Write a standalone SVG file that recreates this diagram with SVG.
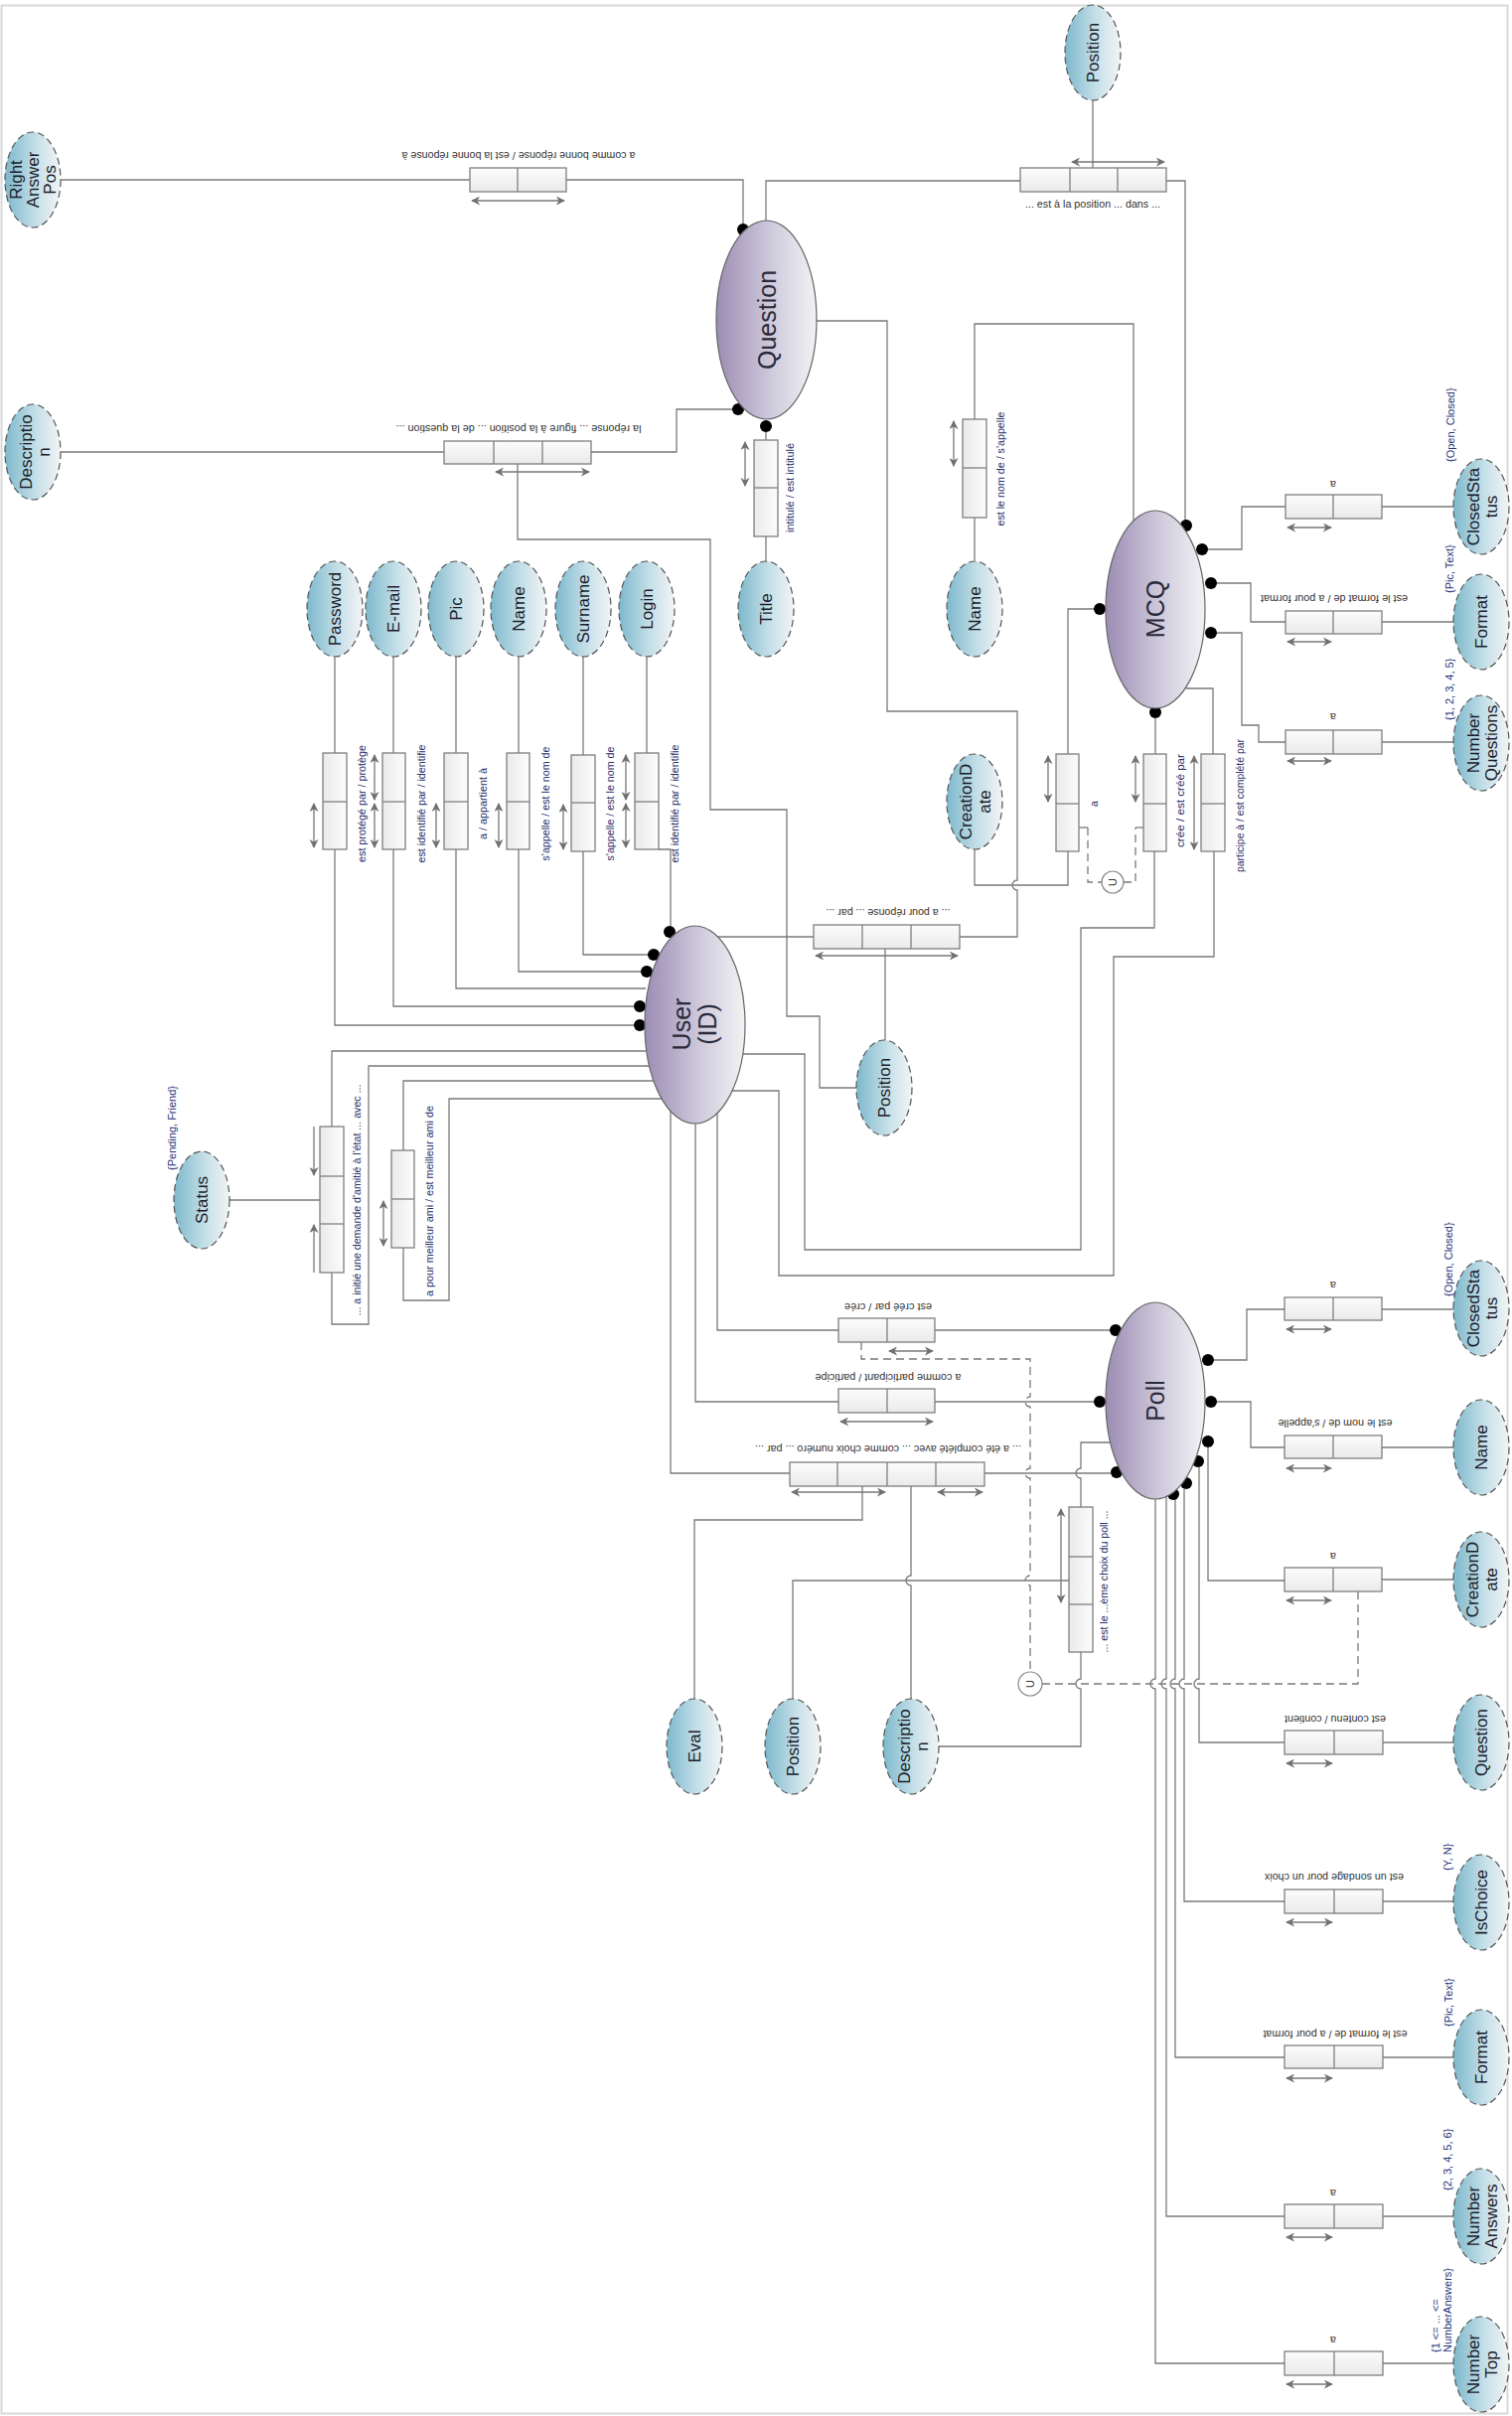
<svg xmlns="http://www.w3.org/2000/svg" width="1522" height="2432" viewBox="0 0 1522 2432">
<defs>
<linearGradient id="gAttr" x1="0" y1="0" x2="1" y2="0"><stop offset="0" stop-color="#7db8cc"/><stop offset="0.55" stop-color="#c4dfe8"/><stop offset="1" stop-color="#f2f4f5"/></linearGradient>
<linearGradient id="gEnt" x1="0" y1="0" x2="1" y2="0"><stop offset="0" stop-color="#9c8cb4"/><stop offset="0.6" stop-color="#d3cfdf"/><stop offset="1" stop-color="#f2f2f4"/></linearGradient>
<linearGradient id="gBoxH" x1="0" y1="0" x2="0" y2="1"><stop offset="0" stop-color="#fcfcfc"/><stop offset="1" stop-color="#eaeaea"/></linearGradient>
<linearGradient id="gBoxV" x1="0" y1="0" x2="1" y2="0"><stop offset="0" stop-color="#eaeaea"/><stop offset="1" stop-color="#fcfcfc"/></linearGradient>
<marker id="ah" viewBox="0 0 10 10" refX="9" refY="5" markerWidth="9" markerHeight="9" markerUnits="userSpaceOnUse" orient="auto-start-reverse"><path d="M0,0 L10,5 L0,10 L3,5 Z" fill="#707070"/></marker>
</defs>
<style>
.ln{fill:none;stroke:#7a7a7a;stroke-width:1.3}
.dash{fill:none;stroke:#7a7a7a;stroke-width:1.3;stroke-dasharray:8 5}
.bh{fill:url(#gBoxH);stroke:#7f7f7f;stroke-width:1.3}
.bv{fill:url(#gBoxV);stroke:#7f7f7f;stroke-width:1.3}
.dv{stroke:#7f7f7f;stroke-width:1.3}
.arr{stroke:#777;stroke-width:1.3;fill:none;marker-start:url(#ah);marker-end:url(#ah)}
.arr1{stroke:#777;stroke-width:1.3;fill:none;marker-end:url(#ah)}
.attr{fill:url(#gAttr);stroke:#555;stroke-width:1.2;stroke-dasharray:7 4}
.ent{fill:url(#gEnt);stroke:#666;stroke-width:1.2}
.dot{fill:#000}
text{font-family:"Liberation Sans",Arial,sans-serif}
.at{font-size:17px;fill:#1c1c2a}
.et{font-size:25px;fill:#2a2a3a}
.lb{font-size:11px;fill:#333}
.vl{font-size:10.5px;fill:#27306b}
.an{font-size:11px;fill:#23357a}
.uc{fill:#fff;stroke:#888;stroke-width:1.2}
</style>
<rect x="1.5" y="5.5" width="1516" height="2424" fill="#fff" stroke="#d9d9d9" stroke-width="2"/>

<g id="connectors">
<g class="ln">
<path d="M61,181 H473"/>
<path d="M570,181 H748 V226"/>
<path d="M61,455 H447"/>
<path d="M595,455 H681 V412 H738"/>
<path d="M521,467 V543 H715 V815 H792 V1023 H825 V1095 H862"/>
<path d="M771,223 V182 H1027"/>
<path d="M1174,182 H1193 V524"/>
<path d="M1100,101 V169"/>
<path d="M822,323 H893 V716 H1024 V886 A5,5 0 0 0 1024,896 V943 H966"/>
<path d="M819,943 H722"/>
<path d="M891,955 V1047"/>
<path d="M771,429 V443"/>
<path d="M771,540 V565"/>
<path d="M337,661 V758"/><path d="M396,661 V758"/><path d="M459,661 V758"/><path d="M522,661 V758"/><path d="M587,661 V760"/><path d="M651,661 V758"/>
<path d="M337,855 V1032 H638"/>
<path d="M396,855 V1013 H638"/>
<path d="M459,855 V995 H650"/>
<path d="M522,855 V978 H646"/>
<path d="M587,857 V961 H653"/>
<path d="M663,855 H675 V932"/>
<path d="M650,1058 H334 V1134"/>
<path d="M334,1281 V1333 H371 V1073 H654"/>
<path d="M231,1208 H322"/>
<path d="M406,1158 V1088 H658"/>
<path d="M406,1256 V1309 H452 V1106 H666"/>
<path d="M748,1061 H810 V1258 H1088 V934 H1162 V857"/>
<path d="M737,1098 H784 V1284 H1121 V963 H1222 V857"/>
<path d="M722,1120 V1339 H844"/>
<path d="M700,1131 V1411 H844"/>
<path d="M675,1118 V1483 H795"/>
<path d="M941,1339 H1117"/>
<path d="M941,1411 H1101"/>
<path d="M991,1483 H1118"/>
<path d="M1118,1452 H1088 V1478 A5,5 0 0 0 1088,1488 V1517"/>
<path d="M1088,1663 V1690 A5,5 0 0 0 1088,1700 V1758 H944"/>
<path d="M798,1710 V1591 H1076"/>
<path d="M868,1496 V1530 H699 V1710"/>
<path d="M917,1496 V1586 A5,5 0 0 0 917,1596 V1710"/>
<path d="M1222,1369 H1255 V1318 H1293"/><path d="M1391,1318 H1463"/>
<path d="M1225,1411 H1259 V1457 H1293"/><path d="M1391,1457 H1463"/>
<path d="M1216,1457 V1591 H1293"/><path d="M1391,1590 H1463"/>
<path d="M1207,1477 V1690 A5,5 0 0 0 1207,1700 V1754 H1293"/><path d="M1392,1754 H1463"/>
<path d="M1192,1499 V1690 A5,5 0 0 0 1192,1700 V1914 H1293"/><path d="M1392,1914 H1463"/>
<path d="M1183,1509 V1690 A5,5 0 0 0 1183,1700 V2071 H1293"/><path d="M1392,2071 H1463"/>
<path d="M1174,1507 V1690 A5,5 0 0 0 1174,1700 V2231 H1293"/><path d="M1392,2231 H1463"/>
<path d="M1163,1509 V1690 A5,5 0 0 0 1163,1700 V2379 H1293"/><path d="M1392,2379 H1463"/>
<path d="M1216,553 H1250 V510 H1294"/><path d="M1391,510 H1463"/>
<path d="M1225,587 H1259 V626 H1294"/><path d="M1391,626 H1463"/>
<path d="M1225,637 H1250 V730 H1267 V747 H1294"/><path d="M1391,747 H1463"/>
<path d="M1141,524 V326 H981 V422"/>
<path d="M981,521 V564"/>
<path d="M1101,613 H1075 V759"/>
<path d="M1075,857 V891 H981 V855"/>
<path d="M1163,723 V759"/>
<path d="M1194,693 H1221 V759"/>
<path d="M1086,833 H1095"/><path d="M1143,833 H1151"/>
</g>
<g class="dash">
<path d="M867,1351 V1368 H1037 V1406 A5,5 0 0 0 1037,1416 V1478 A5,5 0 0 0 1037,1488 V1586 A5,5 0 0 0 1037,1596 V1683"/>
<path d="M1049,1695 H1367 V1602"/>
<path d="M1095,833 V888 H1109"/>
<path d="M1131,888 H1143 V833"/>
</g>
<g id="dots" class="dot">
<circle cx="748" cy="231" r="6"/><circle cx="743" cy="412" r="6"/><circle cx="771" cy="429" r="6"/>
<circle cx="1194" cy="529" r="6"/><circle cx="1210" cy="553" r="6"/><circle cx="1219" cy="587" r="6"/><circle cx="1219" cy="637" r="6"/><circle cx="1107" cy="613" r="6"/><circle cx="1163" cy="717" r="6"/>
<circle cx="674" cy="938" r="6"/><circle cx="658" cy="961" r="6"/><circle cx="651" cy="978" r="6"/><circle cx="644" cy="1013" r="6"/><circle cx="644" cy="1032" r="6"/>
<circle cx="1123" cy="1339" r="6"/><circle cx="1107" cy="1411" r="6"/><circle cx="1124" cy="1482" r="6"/>
<circle cx="1216" cy="1369" r="6"/><circle cx="1219" cy="1411" r="6"/><circle cx="1216" cy="1451" r="6"/>
<circle cx="1206" cy="1471" r="6"/><circle cx="1194" cy="1493" r="6"/><circle cx="1181" cy="1504" r="6"/>
</g>
<g id="unions">
<circle class="uc" cx="1120" cy="888" r="11"/><text class="lb" transform="translate(1120,888) rotate(-90)" text-anchor="middle" dominant-baseline="central">U</text>
<circle class="uc" cx="1037" cy="1695" r="12"/><text class="lb" transform="translate(1037,1695) rotate(-90)" text-anchor="middle" dominant-baseline="central">U</text>
</g>
</g>

<!-- Entities -->
<g id="question"><ellipse class="ent" cx="771.5" cy="322" rx="50.5" ry="100"/><text class="et" transform="translate(772,322) rotate(-90)" text-anchor="middle" dominant-baseline="central">Question</text></g>
<g id="mcq"><ellipse class="ent" cx="1163" cy="613.5" rx="50" ry="99.5"/><text class="et" transform="translate(1163,613) rotate(-90)" text-anchor="middle" dominant-baseline="central">MCQ</text></g>
<g id="user"><ellipse class="ent" cx="699.5" cy="1031.5" rx="50.5" ry="99.5"/><text class="et" transform="translate(699,1031) rotate(-90)" text-anchor="middle" dominant-baseline="central"><tspan x="0" y="-13">User</tspan><tspan x="0" y="13">(ID)</tspan></text></g>
<g id="poll"><ellipse class="ent" cx="1163" cy="1410" rx="50" ry="99"/><text class="et" transform="translate(1163,1410) rotate(-90)" text-anchor="middle" dominant-baseline="central">Poll</text></g>

<!-- Attributes -->
<g id="attr-rightanswerpos"><ellipse class="attr" cx="33" cy="181" rx="28" ry="48"/><text class="at" transform="translate(33,181) rotate(-90)" text-anchor="middle" dominant-baseline="central"><tspan x="0" y="-17">Right</tspan><tspan x="0" y="0">Answer</tspan><tspan x="0" y="17">Pos</tspan></text></g>
<g id="attr-description-q"><ellipse class="attr" cx="33" cy="455" rx="28" ry="48"/><text class="at" transform="translate(35,455) rotate(-90)" text-anchor="middle" dominant-baseline="central"><tspan x="0" y="-9">Descriptio</tspan><tspan x="0" y="9">n</tspan></text></g>
<g id="attr-position-q"><ellipse class="attr" cx="1100" cy="53" rx="28" ry="48"/><text class="at" transform="translate(1100,53) rotate(-90)" text-anchor="middle" dominant-baseline="central">Position</text></g>
<g id="attr-title"><ellipse class="attr" cx="771" cy="613" rx="28" ry="48"/><text class="at" transform="translate(771,613) rotate(-90)" text-anchor="middle" dominant-baseline="central">Title</text></g>
<g id="attr-password"><ellipse class="attr" cx="337" cy="613" rx="28" ry="48"/><text class="at" transform="translate(337,613) rotate(-90)" text-anchor="middle" dominant-baseline="central">Password</text></g>
<g id="attr-email"><ellipse class="attr" cx="396" cy="613" rx="28" ry="48"/><text class="at" transform="translate(396,613) rotate(-90)" text-anchor="middle" dominant-baseline="central">E-mail</text></g>
<g id="attr-pic"><ellipse class="attr" cx="459" cy="613" rx="28" ry="48"/><text class="at" transform="translate(459,613) rotate(-90)" text-anchor="middle" dominant-baseline="central">Pic</text></g>
<g id="attr-name-u"><ellipse class="attr" cx="522" cy="613" rx="28" ry="48"/><text class="at" transform="translate(522,613) rotate(-90)" text-anchor="middle" dominant-baseline="central">Name</text></g>
<g id="attr-surname"><ellipse class="attr" cx="587" cy="613" rx="28" ry="48"/><text class="at" transform="translate(587,613) rotate(-90)" text-anchor="middle" dominant-baseline="central">Surname</text></g>
<g id="attr-login"><ellipse class="attr" cx="651" cy="613" rx="28" ry="48"/><text class="at" transform="translate(651,613) rotate(-90)" text-anchor="middle" dominant-baseline="central">Login</text></g>
<g id="attr-name-mcq"><ellipse class="attr" cx="981" cy="613" rx="28" ry="48"/><text class="at" transform="translate(981,613) rotate(-90)" text-anchor="middle" dominant-baseline="central">Name</text></g>
<g id="attr-creationdate-mcq"><ellipse class="attr" cx="981" cy="807" rx="28" ry="48"/><text class="at" transform="translate(982,807) rotate(-90)" text-anchor="middle" dominant-baseline="central"><tspan x="0" y="-10">CreationD</tspan><tspan x="0" y="9">ate</tspan></text></g>
<g id="attr-position-u"><ellipse class="attr" cx="890" cy="1095" rx="28" ry="48"/><text class="at" transform="translate(890,1095) rotate(-90)" text-anchor="middle" dominant-baseline="central">Position</text></g>
<g id="attr-status"><ellipse class="attr" cx="203" cy="1208" rx="28" ry="49"/><text class="at" transform="translate(203,1208) rotate(-90)" text-anchor="middle" dominant-baseline="central">Status</text></g>
<g id="attr-closedstatus-mcq"><ellipse class="attr" cx="1491" cy="510" rx="28" ry="48"/><text class="at" transform="translate(1492,510) rotate(-90)" text-anchor="middle" dominant-baseline="central"><tspan x="0" y="-9">ClosedSta</tspan><tspan x="0" y="9">tus</tspan></text></g>
<g id="attr-format-mcq"><ellipse class="attr" cx="1491" cy="626" rx="28" ry="48"/><text class="at" transform="translate(1491,626) rotate(-90)" text-anchor="middle" dominant-baseline="central">Format</text></g>
<g id="attr-numberquestions"><ellipse class="attr" cx="1491" cy="748" rx="28" ry="48"/><text class="at" transform="translate(1492,748) rotate(-90)" text-anchor="middle" dominant-baseline="central"><tspan x="0" y="-9">Number</tspan><tspan x="0" y="9">Questions</tspan></text></g>
<g id="attr-closedstatus-poll"><ellipse class="attr" cx="1491" cy="1317" rx="28" ry="48"/><text class="at" transform="translate(1492,1317) rotate(-90)" text-anchor="middle" dominant-baseline="central"><tspan x="0" y="-9">ClosedSta</tspan><tspan x="0" y="9">tus</tspan></text></g>
<g id="attr-name-poll"><ellipse class="attr" cx="1491" cy="1457" rx="28" ry="48"/><text class="at" transform="translate(1491,1457) rotate(-90)" text-anchor="middle" dominant-baseline="central">Name</text></g>
<g id="attr-creationdate-poll"><ellipse class="attr" cx="1491" cy="1590" rx="28" ry="48"/><text class="at" transform="translate(1492,1590) rotate(-90)" text-anchor="middle" dominant-baseline="central"><tspan x="0" y="-10">CreationD</tspan><tspan x="0" y="9">ate</tspan></text></g>
<g id="attr-question-poll"><ellipse class="attr" cx="1491" cy="1754" rx="28" ry="48"/><text class="at" transform="translate(1491,1754) rotate(-90)" text-anchor="middle" dominant-baseline="central">Question</text></g>
<g id="attr-ischoice"><ellipse class="attr" cx="1491" cy="1915" rx="28" ry="48"/><text class="at" transform="translate(1491,1915) rotate(-90)" text-anchor="middle" dominant-baseline="central">IsChoice</text></g>
<g id="attr-format-poll"><ellipse class="attr" cx="1491" cy="2071" rx="28" ry="48"/><text class="at" transform="translate(1491,2071) rotate(-90)" text-anchor="middle" dominant-baseline="central">Format</text></g>
<g id="attr-numberanswers"><ellipse class="attr" cx="1491" cy="2231" rx="28" ry="48"/><text class="at" transform="translate(1492,2231) rotate(-90)" text-anchor="middle" dominant-baseline="central"><tspan x="0" y="-9">Number</tspan><tspan x="0" y="9">Answers</tspan></text></g>
<g id="attr-numbertop"><ellipse class="attr" cx="1491" cy="2380" rx="28" ry="48"/><text class="at" transform="translate(1492,2380) rotate(-90)" text-anchor="middle" dominant-baseline="central"><tspan x="0" y="-9">Number</tspan><tspan x="0" y="9">Top</tspan></text></g>
<g id="attr-eval"><ellipse class="attr" cx="699" cy="1758" rx="28" ry="48"/><text class="at" transform="translate(699,1758) rotate(-90)" text-anchor="middle" dominant-baseline="central">Eval</text></g>
<g id="attr-position-poll"><ellipse class="attr" cx="798" cy="1758" rx="28" ry="48"/><text class="at" transform="translate(798,1758) rotate(-90)" text-anchor="middle" dominant-baseline="central">Position</text></g>
<g id="attr-description-poll"><ellipse class="attr" cx="917" cy="1758" rx="28" ry="48"/><text class="at" transform="translate(919,1758) rotate(-90)" text-anchor="middle" dominant-baseline="central"><tspan x="0" y="-9">Descriptio</tspan><tspan x="0" y="9">n</tspan></text></g>

<!-- Annotations -->
<g id="annotations" class="an">
<text transform="translate(1460,465) rotate(-90)" dominant-baseline="central">{Open, Closed}</text>
<text transform="translate(1459,597) rotate(-90)" dominant-baseline="central">{Pic, Text}</text>
<text transform="translate(1459,725) rotate(-90)" dominant-baseline="central">{1, 2, 3, 4, 5}</text>
<text transform="translate(1458,1305) rotate(-90)" dominant-baseline="central">{Open, Closed}</text>
<text transform="translate(1457,1883) rotate(-90)" dominant-baseline="central">{Y, N}</text>
<text transform="translate(1458,2040) rotate(-90)" dominant-baseline="central">{Pic, Text}</text>
<text transform="translate(1457,2205) rotate(-90)" dominant-baseline="central">{2, 3, 4, 5, 6}</text>
<text transform="translate(1445,2368) rotate(-90)" dominant-baseline="central">{1 &lt;= ... &lt;=</text>
<text transform="translate(1457,2368) rotate(-90)" dominant-baseline="central">NumberAnswers}</text>
<text transform="translate(173,1178) rotate(-90)" dominant-baseline="central">{Pending, Friend}</text>
</g>

<!-- Relations -->
<g id="rel-bonne-reponse"><rect class="bh" x="473" y="169" width="97" height="24"/><line class="dv" x1="521" y1="169" x2="521" y2="193"/><line class="arr" x1="475" y1="202" x2="568" y2="202"/>
<text class="lb" transform="translate(522,157) rotate(180)" text-anchor="middle" dominant-baseline="central" textLength="235" lengthAdjust="spacingAndGlyphs">a comme bonne réponse / est la bonne réponse à</text></g>
<g id="rel-reponse-position"><rect class="bh" x="447" y="444" width="148" height="23"/><line class="dv" x1="497" y1="444" x2="497" y2="467"/><line class="dv" x1="546" y1="444" x2="546" y2="467"/><line class="arr" x1="499" y1="475" x2="593" y2="475"/>
<text class="lb" transform="translate(522,432) rotate(180)" text-anchor="middle" dominant-baseline="central" textLength="247" lengthAdjust="spacingAndGlyphs">la réponse ... figure à la position ... de la question ...</text></g>
<g id="rel-position-dans"><rect class="bh" x="1027" y="169" width="147" height="24"/><line class="dv" x1="1077" y1="169" x2="1077" y2="193"/><line class="dv" x1="1125" y1="169" x2="1125" y2="193"/><line class="arr" x1="1079" y1="163" x2="1172" y2="163"/>
<text class="lb" x="1100" y="205" text-anchor="middle" dominant-baseline="central" textLength="136" lengthAdjust="spacingAndGlyphs">... est à la position ... dans ...</text></g>
<g id="rel-intitule"><rect class="bv" x="759" y="443" width="24" height="97"/><line class="dv" x1="759" y1="491" x2="783" y2="491"/><line class="arr" x1="750" y1="445" x2="750" y2="489"/>
<text class="vl" transform="translate(795,491) rotate(-90)" text-anchor="middle" dominant-baseline="central" textLength="90" lengthAdjust="spacingAndGlyphs">intitulé / est intitulé</text></g>
<g id="rel-a-pour-reponse"><rect class="bh" x="819" y="931" width="147" height="24"/><line class="dv" x1="868" y1="931" x2="868" y2="955"/><line class="dv" x1="917" y1="931" x2="917" y2="955"/><line class="arr" x1="821" y1="962" x2="964" y2="962"/>
<text class="lb" transform="translate(894,919) rotate(180)" text-anchor="middle" dominant-baseline="central" textLength="125" lengthAdjust="spacingAndGlyphs">... a pour réponse ... par ...</text></g>

<g id="rel-password"><rect class="bv" x="325" y="758" width="24" height="97"/><line class="dv" x1="325" y1="807" x2="349" y2="807"/><line class="arr" x1="316" y1="809" x2="316" y2="853"/>
<text class="vl" transform="translate(364,809) rotate(-90)" text-anchor="middle" dominant-baseline="central" textLength="118" lengthAdjust="spacingAndGlyphs">est protégé par / protège</text></g>
<g id="rel-email"><rect class="bv" x="385" y="758" width="23" height="97"/><line class="dv" x1="385" y1="807" x2="408" y2="807"/><line class="arr" x1="377" y1="760" x2="377" y2="805"/><line class="arr" x1="377" y1="809" x2="377" y2="853"/>
<text class="vl" transform="translate(424,809) rotate(-90)" text-anchor="middle" dominant-baseline="central" textLength="119" lengthAdjust="spacingAndGlyphs">est identifié par / identifie</text></g>
<g id="rel-pic"><rect class="bv" x="447" y="758" width="24" height="97"/><line class="dv" x1="447" y1="807" x2="471" y2="807"/><line class="arr" x1="439" y1="809" x2="439" y2="853"/>
<text class="vl" transform="translate(486,809) rotate(-90)" text-anchor="middle" dominant-baseline="central" textLength="72" lengthAdjust="spacingAndGlyphs">a / appartient à</text></g>
<g id="rel-name-u"><rect class="bv" x="510" y="758" width="23" height="97"/><line class="dv" x1="510" y1="807" x2="533" y2="807"/><line class="arr" x1="502" y1="809" x2="502" y2="853"/>
<text class="vl" transform="translate(549,809) rotate(-90)" text-anchor="middle" dominant-baseline="central" textLength="115" lengthAdjust="spacingAndGlyphs">s'appelle / est le nom de</text></g>
<g id="rel-surname"><rect class="bv" x="575" y="760" width="24" height="97"/><line class="dv" x1="575" y1="808" x2="599" y2="808"/><line class="arr" x1="567" y1="810" x2="567" y2="855"/>
<text class="vl" transform="translate(614,809) rotate(-90)" text-anchor="middle" dominant-baseline="central" textLength="115" lengthAdjust="spacingAndGlyphs">s'appelle / est le nom de</text></g>
<g id="rel-login"><rect class="bv" x="639" y="758" width="24" height="97"/><line class="dv" x1="639" y1="807" x2="663" y2="807"/><line class="arr" x1="630" y1="760" x2="630" y2="805"/><line class="arr" x1="630" y1="809" x2="630" y2="853"/>
<text class="vl" transform="translate(679,809) rotate(-90)" text-anchor="middle" dominant-baseline="central" textLength="119" lengthAdjust="spacingAndGlyphs">est identifié par / identifie</text></g>

<g id="rel-name-mcq"><rect class="bv" x="969" y="422" width="24" height="99"/><line class="dv" x1="969" y1="471" x2="993" y2="471"/><line class="arr" x1="960" y1="424" x2="960" y2="469"/>
<text class="vl" transform="translate(1007,472) rotate(-90)" text-anchor="middle" dominant-baseline="central" textLength="115" lengthAdjust="spacingAndGlyphs">est le nom de / s'appelle</text></g>
<g id="rel-creationdate-mcq"><rect class="bv" x="1063" y="759" width="23" height="98"/><line class="dv" x1="1063" y1="809" x2="1086" y2="809"/><line class="arr" x1="1055" y1="761" x2="1055" y2="807"/>
<text class="vl" transform="translate(1101,809) rotate(-90)" text-anchor="middle" dominant-baseline="central">a</text></g>
<g id="rel-cree-mcq"><rect class="bv" x="1151" y="759" width="23" height="98"/><line class="dv" x1="1151" y1="809" x2="1174" y2="809"/><line class="arr" x1="1143" y1="761" x2="1143" y2="807"/>
<text class="vl" transform="translate(1188,806) rotate(-90)" text-anchor="middle" dominant-baseline="central" textLength="94" lengthAdjust="spacingAndGlyphs">crée / est créé par</text></g>
<g id="rel-participe-mcq"><rect class="bv" x="1209" y="759" width="24" height="98"/><line class="dv" x1="1209" y1="809" x2="1233" y2="809"/><line class="arr" x1="1202" y1="761" x2="1202" y2="855"/>
<text class="vl" transform="translate(1248,811) rotate(-90)" text-anchor="middle" dominant-baseline="central" textLength="134" lengthAdjust="spacingAndGlyphs">participe à / est complété par</text></g>
<g id="rel-closedstatus-mcq"><rect class="bh" x="1294" y="498" width="97" height="24"/><line class="dv" x1="1342" y1="498" x2="1342" y2="522"/><line class="arr" x1="1296" y1="531" x2="1340" y2="531"/>
<text class="lb" transform="translate(1342,488) rotate(180)" text-anchor="middle" dominant-baseline="central">a</text></g>
<g id="rel-format-mcq"><rect class="bh" x="1294" y="615" width="97" height="23"/><line class="dv" x1="1342" y1="615" x2="1342" y2="638"/><line class="arr" x1="1296" y1="646" x2="1340" y2="646"/>
<text class="lb" transform="translate(1343,603) rotate(180)" text-anchor="middle" dominant-baseline="central" textLength="148" lengthAdjust="spacingAndGlyphs">est le format de / a pour format</text></g>
<g id="rel-numberquestions"><rect class="bh" x="1294" y="735" width="97" height="24"/><line class="dv" x1="1342" y1="735" x2="1342" y2="759"/><line class="arr" x1="1296" y1="766" x2="1340" y2="766"/>
<text class="lb" transform="translate(1342,722) rotate(180)" text-anchor="middle" dominant-baseline="central">a</text></g>

<g id="rel-demande-amitie"><rect class="bv" x="322" y="1134" width="24" height="147"/><line class="dv" x1="322" y1="1184" x2="346" y2="1184"/><line class="dv" x1="322" y1="1232" x2="346" y2="1232"/>
<line class="arr1" x1="316" y1="1134" x2="316" y2="1183"/><line class="arr1" x1="316" y1="1281" x2="316" y2="1233"/>
<text class="vl" transform="translate(359,1208) rotate(-90)" text-anchor="middle" dominant-baseline="central" textLength="233" lengthAdjust="spacingAndGlyphs">... a initié une demande d'amitié à l'état ... avec ...</text></g>
<g id="rel-meilleur-ami"><rect class="bv" x="394" y="1158" width="23" height="98"/><line class="dv" x1="394" y1="1207" x2="417" y2="1207"/><line class="arr" x1="386" y1="1209" x2="386" y2="1254"/>
<text class="vl" transform="translate(432,1209) rotate(-90)" text-anchor="middle" dominant-baseline="central" textLength="192" lengthAdjust="spacingAndGlyphs">a pour meilleur ami / est meilleur ami de</text></g>

<g id="rel-cree-poll"><rect class="bh" x="844" y="1327" width="97" height="24"/><line class="dv" x1="893" y1="1327" x2="893" y2="1351"/><line class="arr" x1="895" y1="1360" x2="939" y2="1360"/>
<text class="lb" transform="translate(894,1316) rotate(180)" text-anchor="middle" dominant-baseline="central" textLength="88" lengthAdjust="spacingAndGlyphs">est créé par / crée</text></g>
<g id="rel-participant-poll"><rect class="bh" x="844" y="1398" width="97" height="24"/><line class="dv" x1="893" y1="1398" x2="893" y2="1422"/><line class="arr" x1="846" y1="1431" x2="939" y2="1431"/>
<text class="lb" transform="translate(894,1387) rotate(180)" text-anchor="middle" dominant-baseline="central" textLength="147" lengthAdjust="spacingAndGlyphs">a comme participant / participe</text></g>
<g id="rel-complete-poll"><rect class="bh" x="795" y="1472" width="196" height="24"/><line class="dv" x1="843" y1="1472" x2="843" y2="1496"/><line class="dv" x1="893" y1="1472" x2="893" y2="1496"/><line class="dv" x1="942" y1="1472" x2="942" y2="1496"/>
<line class="arr" x1="797" y1="1502" x2="891" y2="1502"/><line class="arr" x1="944" y1="1502" x2="989" y2="1502"/>
<text class="lb" transform="translate(894,1459) rotate(180)" text-anchor="middle" dominant-baseline="central" textLength="268" lengthAdjust="spacingAndGlyphs">... a été complété avec ... comme choix numéro ... par ...</text></g>
<g id="rel-choix-poll"><rect class="bv" x="1076" y="1517" width="24" height="146"/><line class="dv" x1="1076" y1="1567" x2="1100" y2="1567"/><line class="dv" x1="1076" y1="1615" x2="1100" y2="1615"/><line class="arr" x1="1068" y1="1519" x2="1068" y2="1613"/>
<text class="vl" transform="translate(1111,1592) rotate(-90)" text-anchor="middle" dominant-baseline="central" textLength="143" lengthAdjust="spacingAndGlyphs">... est le ...ème choix du poll ...</text></g>

<g id="rel-closedstatus-poll"><rect class="bh" x="1293" y="1306" width="98" height="23"/><line class="dv" x1="1342" y1="1306" x2="1342" y2="1329"/><line class="arr" x1="1295" y1="1338" x2="1340" y2="1338"/>
<text class="lb" transform="translate(1342,1294) rotate(180)" text-anchor="middle" dominant-baseline="central">a</text></g>
<g id="rel-name-poll"><rect class="bh" x="1293" y="1445" width="98" height="23"/><line class="dv" x1="1342" y1="1445" x2="1342" y2="1468"/><line class="arr" x1="1295" y1="1478" x2="1340" y2="1478"/>
<text class="lb" transform="translate(1344,1433) rotate(180)" text-anchor="middle" dominant-baseline="central" textLength="115" lengthAdjust="spacingAndGlyphs">est le nom de / s'appelle</text></g>
<g id="rel-creationdate-poll"><rect class="bh" x="1293" y="1578" width="98" height="24"/><line class="dv" x1="1342" y1="1578" x2="1342" y2="1602"/><line class="arr" x1="1295" y1="1611" x2="1340" y2="1611"/>
<text class="lb" transform="translate(1342,1567) rotate(180)" text-anchor="middle" dominant-baseline="central">a</text></g>
<g id="rel-question-poll"><rect class="bh" x="1293" y="1742" width="99" height="24"/><line class="dv" x1="1343" y1="1742" x2="1343" y2="1766"/><line class="arr" x1="1295" y1="1775" x2="1341" y2="1775"/>
<text class="lb" transform="translate(1344,1731) rotate(180)" text-anchor="middle" dominant-baseline="central" textLength="102" lengthAdjust="spacingAndGlyphs">est contenu / contient</text></g>
<g id="rel-ischoice"><rect class="bh" x="1293" y="1902" width="99" height="24"/><line class="dv" x1="1343" y1="1902" x2="1343" y2="1926"/><line class="arr" x1="1295" y1="1935" x2="1341" y2="1935"/>
<text class="lb" transform="translate(1343,1890) rotate(180)" text-anchor="middle" dominant-baseline="central" textLength="140" lengthAdjust="spacingAndGlyphs">est un sondage pour un choix</text></g>
<g id="rel-format-poll"><rect class="bh" x="1293" y="2059" width="99" height="23"/><line class="dv" x1="1343" y1="2059" x2="1343" y2="2082"/><line class="arr" x1="1295" y1="2092" x2="1341" y2="2092"/>
<text class="lb" transform="translate(1344,2048) rotate(180)" text-anchor="middle" dominant-baseline="central" textLength="145" lengthAdjust="spacingAndGlyphs">est le format de / a pour format</text></g>
<g id="rel-numberanswers"><rect class="bh" x="1293" y="2219" width="99" height="24"/><line class="dv" x1="1343" y1="2219" x2="1343" y2="2243"/><line class="arr" x1="1295" y1="2252" x2="1341" y2="2252"/>
<text class="lb" transform="translate(1342,2208) rotate(180)" text-anchor="middle" dominant-baseline="central">a</text></g>
<g id="rel-numbertop"><rect class="bh" x="1293" y="2367" width="99" height="24"/><line class="dv" x1="1343" y1="2367" x2="1343" y2="2391"/><line class="arr" x1="1295" y1="2400" x2="1341" y2="2400"/>
<text class="lb" transform="translate(1342,2356) rotate(180)" text-anchor="middle" dominant-baseline="central">a</text></g>
</svg>
